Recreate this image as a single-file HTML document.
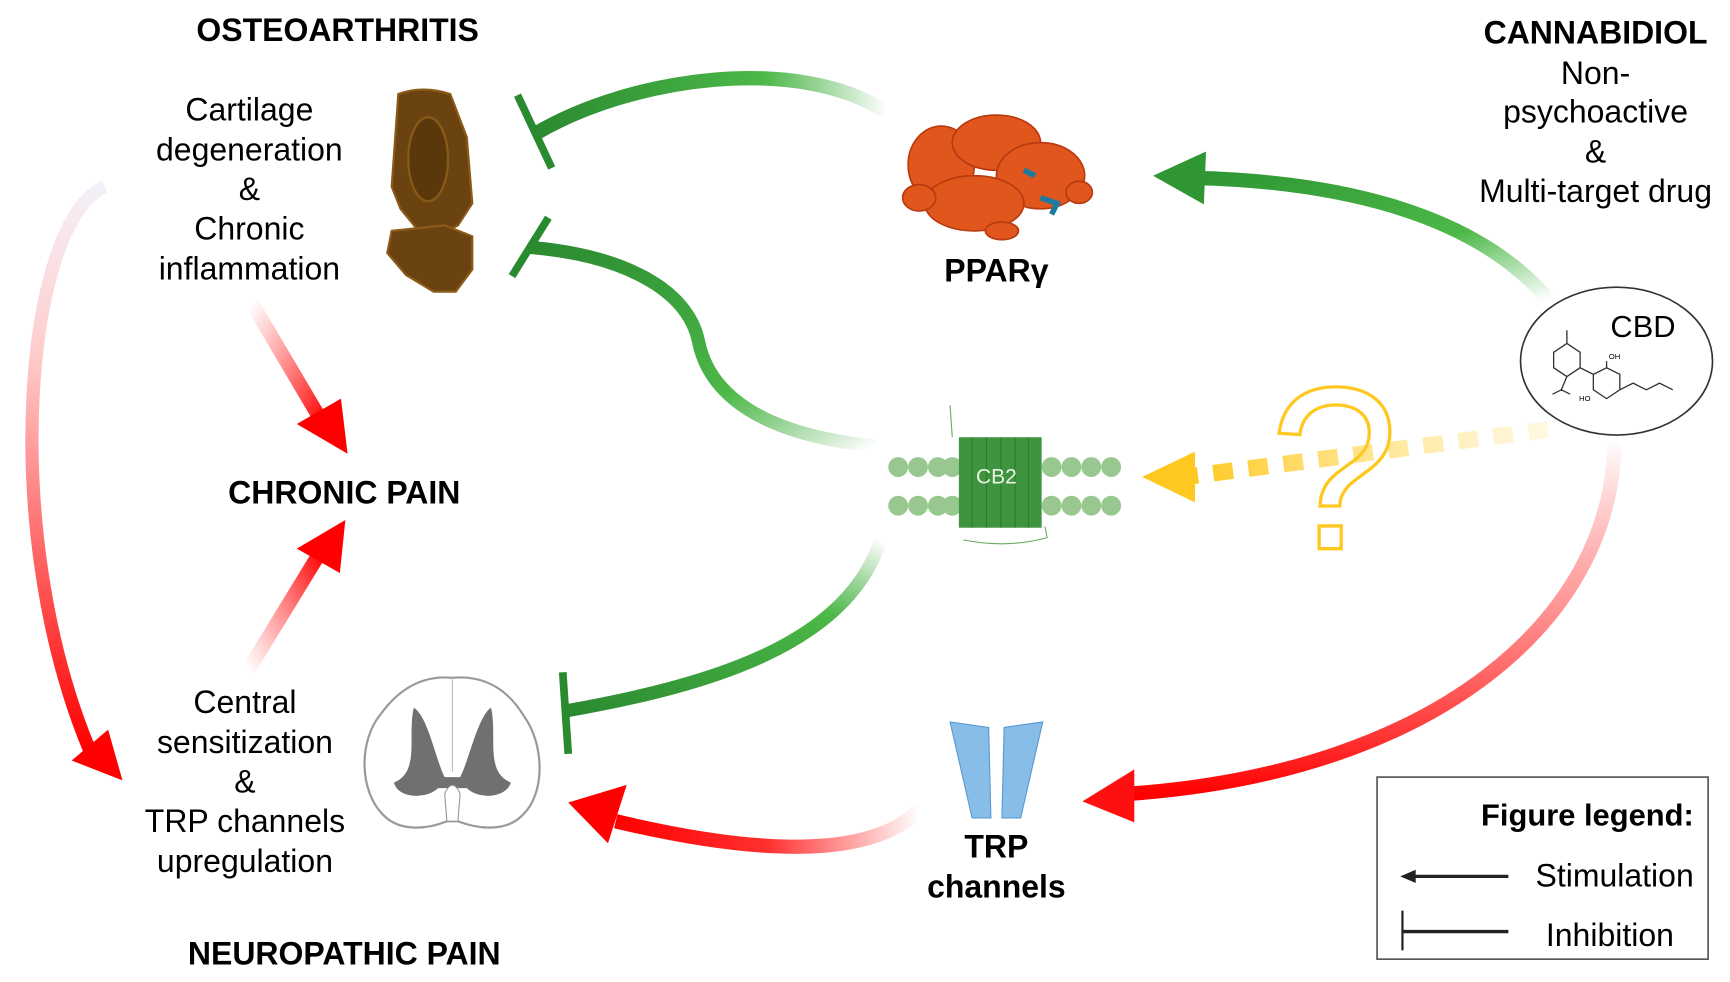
<!DOCTYPE html>
<html><head><meta charset="utf-8"><style>
html,body{margin:0;padding:0;background:#fff;}
svg{display:block;}
text{font-family:"Liberation Sans",sans-serif;}
</style></head><body>
<svg width="1730" height="982" viewBox="0 0 1560 885" xmlns="http://www.w3.org/2000/svg">
<defs>
<linearGradient id="g1" x1="1" y1="0" x2="0" y2="0"><stop offset="0" stop-color="#3aa83a" stop-opacity="0"/><stop offset="0.35" stop-color="#4cb848"/><stop offset="1" stop-color="#2a8a30"/></linearGradient>
<linearGradient id="g2" x1="1" y1="1" x2="0" y2="0"><stop offset="0" stop-color="#3aa83a" stop-opacity="0"/><stop offset="0.35" stop-color="#4cb848"/><stop offset="1" stop-color="#2a8a30"/></linearGradient>
<linearGradient id="g3" x1="1" y1="0" x2="0" y2="1"><stop offset="0" stop-color="#3aa83a" stop-opacity="0"/><stop offset="0.3" stop-color="#4cb848"/><stop offset="1" stop-color="#2a8a30"/></linearGradient>
<linearGradient id="g4" x1="1" y1="1" x2="0" y2="0"><stop offset="0" stop-color="#4cb848" stop-opacity="0"/><stop offset="0.4" stop-color="#4cb848"/><stop offset="1" stop-color="#2f9633"/></linearGradient>
<linearGradient id="r1" x1="0" y1="0" x2="0" y2="1"><stop offset="0" stop-color="#ff3030" stop-opacity="0"/><stop offset="0.45" stop-color="#ff5555" stop-opacity="0.6"/><stop offset="1" stop-color="#ff0000"/></linearGradient>
<linearGradient id="r2" x1="1" y1="0" x2="0" y2="0"><stop offset="0" stop-color="#ff3030" stop-opacity="0"/><stop offset="0.5" stop-color="#ff3030"/><stop offset="1" stop-color="#ff0000"/></linearGradient>
<linearGradient id="r3" x1="0" y1="0" x2="1" y2="1"><stop offset="0" stop-color="#ff3030" stop-opacity="0"/><stop offset="1" stop-color="#ff0000"/></linearGradient>
<linearGradient id="r4" x1="0" y1="1" x2="1" y2="0"><stop offset="0" stop-color="#ff3030" stop-opacity="0"/><stop offset="1" stop-color="#ff0000"/></linearGradient>
<linearGradient id="r5" x1="0" y1="0" x2="0" y2="1"><stop offset="0" stop-color="#f4f0f8"/><stop offset="0.3" stop-color="#ffcccc"/><stop offset="1" stop-color="#ff0000"/></linearGradient>
<linearGradient id="y1" x1="1" y1="0" x2="0" y2="0"><stop offset="0" stop-color="#ffe070" stop-opacity="0.2"/><stop offset="1" stop-color="#ffc820"/></linearGradient>
</defs>
<g transform="scale(0.995) translate(-3,-3)">
<text x="309" y="40" font-size="29" font-weight="bold" text-anchor="middle">OSTEOARTHRITIS</text>
<text x="1449" y="42" font-size="29" font-weight="bold" text-anchor="middle">CANNABIDIOL</text>
<g font-size="29" text-anchor="middle">
<text x="1449" y="79">Non-</text><text x="1449" y="114">psychoactive</text><text x="1449" y="150">&amp;</text><text x="1449" y="186">Multi-target drug</text>
<text x="229" y="112">Cartilage</text><text x="229" y="148">degeneration</text><text x="229" y="184">&amp;</text><text x="229" y="220">Chronic</text><text x="229" y="256">inflammation</text>
<text x="225" y="649">Central</text><text x="225" y="685">sensitization</text><text x="225" y="721">&amp;</text><text x="225" y="757">TRP channels</text><text x="225" y="793">upregulation</text>
</g>
<text x="315" y="459" font-size="29" font-weight="bold" text-anchor="middle">CHRONIC  PAIN</text>
<text x="315" y="877" font-size="29" font-weight="bold" text-anchor="middle">NEUROPATHIC PAIN</text>
<text x="906" y="258" font-size="29" font-weight="bold" text-anchor="middle">PPARγ</text>
<text x="906" y="780" font-size="29" font-weight="bold" text-anchor="middle">TRP</text>
<text x="906" y="816" font-size="29" font-weight="bold" text-anchor="middle">channels</text>

<path d="M806,104 C726,52 576,72 488,124" fill="none" stroke="url(#g1)" stroke-width="13"/>
<line x1="472" y1="89" x2="503" y2="155" stroke="#2a8a30" stroke-width="7"/>
<path d="M796,407 C696,397 646,362 636,312 C626,264 566,234 484,227" fill="none" stroke="url(#g2)" stroke-width="12"/>
<line x1="467" y1="253" x2="500" y2="200" stroke="#2a8a30" stroke-width="7"/>
<path d="M801,492 C771,587 646,624 516,647" fill="none" stroke="url(#g3)" stroke-width="12"/>
<line x1="513" y1="612" x2="518" y2="686" stroke="#2a8a30" stroke-width="7"/>
<path d="M1406,274 C1336,192 1206,167 1086,164" fill="none" stroke="url(#g4)" stroke-width="13"/>
<polygon points="1048,162 1096,140 1094,188" fill="#2f9633"/>

<line x1="1406" y1="392" x2="1084" y2="434" stroke="url(#y1)" stroke-width="15" stroke-dasharray="18,14"/>
<polygon points="1038,435 1086,412 1086,458" fill="#ffc820"/>
<text x="1212" y="500" font-size="210" text-anchor="middle" fill="none" stroke="#ffc820" stroke-width="3">?</text>

<path d="M1466,402 C1466,562 1306,702 1028,722" fill="none" stroke="url(#r1)" stroke-width="13"/>
<polygon points="984,729 1031,700 1031,748" fill="#ff1010"/>
<path d="M836,737 C786,787 666,772 561,747" fill="none" stroke="url(#r2)" stroke-width="13"/>
<polygon points="518,730 571,714 554,767" fill="#ff0000"/>
<path d="M231,277 L296,387" stroke="url(#r3)" stroke-width="13"/>
<polygon points="318,414 272,387 312,364" fill="#ff0000"/>
<path d="M228,610 L294,502" stroke="url(#r4)" stroke-width="13"/>
<polygon points="316,474 311,522 272,500" fill="#ff0000"/>
<path d="M98,172 C26,202 1,482 84,682" fill="none" stroke="url(#r5)" stroke-width="12"/>
<polygon points="114,710 68,692 101,664" fill="#ff0000"/>

<g fill="#6b4310" stroke="#8a5a18" stroke-width="2">
<path d="M364,88 Q386,80 411,88 L426,127 L431,187 L418,207 L404,214 L384,214 L366,192 L358,172 Z"/>
<path d="M358,212 L406,207 L431,217 L431,247 L416,267 L396,267 L371,252 L354,232 Z"/>
<ellipse cx="391" cy="147" rx="18" ry="38" fill="#5a380c"/>
</g>

<g fill="#e0561c" stroke="#b83a10" stroke-width="1.5">
<ellipse cx="856" cy="152" rx="30" ry="35"/><ellipse cx="906" cy="132" rx="40" ry="25"/>
<ellipse cx="946" cy="162" rx="40" ry="30"/><ellipse cx="886" cy="187" rx="45" ry="25"/>
<ellipse cx="836" cy="182" rx="15" ry="12"/><ellipse cx="981" cy="177" rx="12" ry="10"/>
<ellipse cx="911" cy="212" rx="15" ry="8"/>
</g>
<path d="M946,182 l15,5 l-5,10 M931,157 l10,5" stroke="#1a7aa0" stroke-width="5" fill="none"/>

<g fill="#98c890">
<circle cx="817" cy="426" r="9"/><circle cx="835" cy="426" r="9"/><circle cx="853" cy="426" r="9"/><circle cx="866" cy="426" r="9"/>
<circle cx="817" cy="461" r="9"/><circle cx="835" cy="461" r="9"/><circle cx="853" cy="461" r="9"/><circle cx="866" cy="461" r="9"/>
<circle cx="956" cy="426" r="9"/><circle cx="974" cy="426" r="9"/><circle cx="992" cy="426" r="9"/><circle cx="1010" cy="426" r="9"/>
<circle cx="956" cy="461" r="9"/><circle cx="974" cy="461" r="9"/><circle cx="992" cy="461" r="9"/><circle cx="1010" cy="461" r="9"/>
</g>
<rect x="872" y="399" width="75" height="82" fill="#3f9440"/>
<g stroke="#2e7a30" stroke-width="1"><line x1="884" y1="399" x2="884" y2="481"/><line x1="897" y1="399" x2="897" y2="481"/><line x1="910" y1="399" x2="910" y2="481"/><line x1="923" y1="399" x2="923" y2="481"/><line x1="935" y1="399" x2="935" y2="481"/></g>
<path d="M866,399 L864,370 M876,492 Q916,500 952,490 L950,480" stroke="#6aaa60" fill="none"/>
<text x="906" y="441" font-size="19" font-family="Liberation Serif,serif" fill="#e8f4e0" text-anchor="middle">CB2</text>

<polygon points="864,657 899,662 901,744 884,744" fill="#88bde8" stroke="#5a9ad0"/>
<polygon points="913,662 948,657 928,744 911,744" fill="#88bde8" stroke="#5a9ad0"/>

<path d="M413,617 C446,614 466,632 478,652 C496,677 498,722 476,742 C461,757 436,754 418,747 L408,747 C391,754 366,757 351,742 C328,720 328,674 348,650 C361,632 381,614 413,617 Z" fill="#fff" stroke="#999" stroke-width="2"/>
<path d="M378,644 C391,652 398,692 406,707 L420,707 C428,692 436,652 448,644 C454,670 442,702 466,712 C461,727 436,727 426,717 L400,717 C390,727 364,727 360,712 C384,702 372,670 378,644 Z" fill="#707070"/>
<line x1="413" y1="617" x2="413" y2="702" stroke="#bbb"/>
<path d="M406,722 Q413,707 420,722 L418,747 L408,747 Z" fill="#fff" stroke="#999"/>

<ellipse cx="1468" cy="330" rx="87" ry="67" fill="#fff" stroke="#333" stroke-width="1.5"/>
<text x="1492" y="308" font-size="28" text-anchor="middle">CBD</text>
<g stroke="#333" stroke-width="1.2" fill="none">
<path d="M1411,322 l12,-8 l12,8 l0,14 l-12,8 l-12,-8 Z M1423,314 l0,-12 M1423,344 l-5,12 l-8,4 M1418,356 l8,4 M1435,336 l12,6 l12,-6 l12,6 l0,14 l-12,8 l-12,-8 l0,-14 M1459,336 l0,-6 M1471,356 l12,-6 l12,6 l12,-6 l12,6"/>
</g>
<text x="1461" y="328" font-size="7">OH</text><text x="1434" y="366" font-size="7">HO</text>

<rect x="1251" y="707" width="300" height="165" fill="#fff" stroke="#555" stroke-width="1.5"/>
<text x="1538" y="751" font-size="28" font-weight="bold" text-anchor="end">Figure legend:</text>
<text x="1538" y="806" font-size="29" text-anchor="end">Stimulation</text>
<text x="1462" y="860" font-size="29" text-anchor="middle">Inhibition</text>
<line x1="1281" y1="797" x2="1370" y2="797" stroke="#222" stroke-width="3"/>
<polygon points="1272,797 1286,791 1286,803" fill="#222"/>
<line x1="1274" y1="847" x2="1370" y2="847" stroke="#222" stroke-width="3"/>
<line x1="1274" y1="828" x2="1274" y2="864" stroke="#222" stroke-width="2"/>
</g>
</svg>
</body></html>
